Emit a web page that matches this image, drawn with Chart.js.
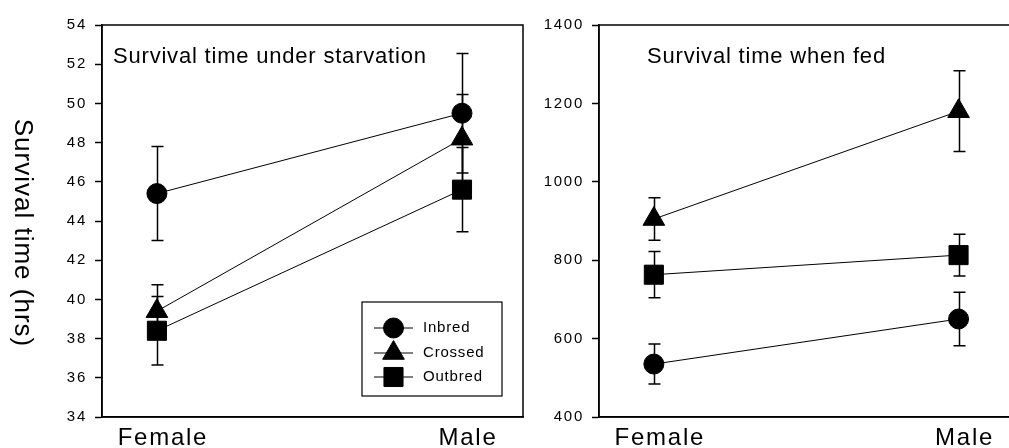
<!DOCTYPE html>
<html><head><meta charset="utf-8">
<script src="https://cdn.jsdelivr.net/npm/chart.js@4"></script>
<style>
html,body{margin:0;padding:0;background:#fff;overflow:hidden;width:1009px;height:448px;position:relative}
#c1{position:absolute;left:0;top:0}
#c2{position:absolute;left:530px;top:0}
</style></head>
<body>
<canvas id="c1" width="540" height="448"></canvas>
<canvas id="c2" width="504" height="448"></canvas>
<script>
// ---------- data ----------
const categories = ['Female', 'Male'];
const seriesNames = ['Inbred', 'Crossed', 'Outbred'];
const yTitle = 'Survival time (hrs)';
const titleStarv = 'Survival time under starvation';
const titleFed = 'Survival time when fed';

const starvInbred = [45.4, 49.5];
const starvInbredErr = [2.4, 3.05];
const starvCrossed = [39.4, 48.2];
const starvCrossedErr = [1.35, 2.25];
const starvOutbred = [38.4, 45.6];
const starvOutbredErr = [1.75, 2.15];

const fedInbred = [535, 650];
const fedInbredErr = [51, 68];
const fedCrossed = [905, 1180];
const fedCrossedErr = [54, 103];
const fedOutbred = [763, 813];
const fedOutbredErr = [59, 53];

const starvTickMin = 34, starvTickMax = 54, starvTickStep = 2;
const fedTickMin = 400, fedTickMax = 1400, fedTickStep = 200;

// ---------- styles ----------
const FONT = '"Liberation Sans", Arial, sans-serif';
const markerStyles = {
  Inbred: {pointStyle: 'circle', radius: 10},
  Crossed: {pointStyle: 'triangle', radius: 12.5},
  Outbred: {pointStyle: 'rect', radius: 13.5}
};

function makeDataset(name, values, errs) {
  const m = markerStyles[name];
  return {
    label: name,
    data: values.map((v, i) => ({x: i, y: v})),
    errors: errs,
    borderColor: '#000',
    borderWidth: 1,
    backgroundColor: '#000',
    pointStyle: m.pointStyle,
    pointRadius: m.radius,
    pointBackgroundColor: '#000',
    pointBorderColor: '#000',
    pointBorderWidth: 1,
    tension: 0,
    clip: false
  };
}

function drawMarker(ctx, style, r, x, y) {
  ctx.beginPath();
  if (style === 'circle') {
    ctx.arc(x, y, r, 0, Math.PI * 2);
  } else if (style === 'triangle') {
    const a = 2 * Math.PI / 3;
    ctx.moveTo(x, y - r);
    ctx.lineTo(x + Math.sin(a) * r, y - Math.cos(a) * r);
    ctx.lineTo(x + Math.sin(2 * a) * r, y - Math.cos(2 * a) * r);
    ctx.closePath();
  } else {
    const s = Math.SQRT1_2 * r;
    ctx.rect(x - s, y - s, 2 * s, 2 * s);
  }
  ctx.fill();
  ctx.stroke();
}

const textSpacing = {
  id: 'textSpacing',
  beforeDraw(chart) { chart.ctx.letterSpacing = '1.75px'; }
};

const errorBars = {
  id: 'errorBars',
  beforeDatasetsDraw(chart) {
    const ctx = chart.ctx, xs = chart.scales.x, ys = chart.scales.y;
    ctx.save();
    ctx.strokeStyle = '#000';
    ctx.lineWidth = 1.5;
    chart.data.datasets.forEach(ds => {
      ds.data.forEach((p, i) => {
        const e = ds.errors[i];
        const x = Math.round(xs.getPixelForValue(p.x)) + 0.5;
        const y1 = ys.getPixelForValue(p.y + e);
        const y2 = ys.getPixelForValue(p.y - e);
        ctx.beginPath();
        ctx.moveTo(x, y1); ctx.lineTo(x, y2);
        ctx.moveTo(x - 6, y1); ctx.lineTo(x + 6, y1);
        ctx.moveTo(x - 6, y2); ctx.lineTo(x + 6, y2);
        ctx.stroke();
      });
    });
    ctx.restore();
  }
};

const frame = {
  id: 'frame',
  afterDraw(chart, args, opts) {
    const ctx = chart.ctx, a = chart.chartArea;
    ctx.save();
    ctx.strokeStyle = '#000';
    ctx.lineWidth = 1.5;
    ctx.strokeRect(a.left, a.top, a.right - a.left, a.bottom - a.top);
    // panel title
    ctx.letterSpacing = '0.8px';
    ctx.fillStyle = '#000';
    ctx.font = '22px ' + FONT;
    ctx.textAlign = 'left';
    ctx.textBaseline = 'alphabetic';
    ctx.fillText(opts.title, opts.titleX, opts.titleY);
    if (opts.yTitle) {
      ctx.save();
      ctx.letterSpacing = '1px';
      ctx.font = '26px ' + FONT;
      ctx.translate(opts.yTitleX, opts.yTitleY);
      ctx.rotate(Math.PI / 2);
      ctx.textAlign = 'center';
      ctx.textBaseline = 'middle';
      ctx.fillText(opts.yTitle, 0, 0);
      ctx.restore();
    }
    if (opts.legend) {
      const L = opts.legend;
      ctx.lineWidth = 1.2;
      ctx.strokeRect(L.x, L.y, L.w, L.h);
      ctx.letterSpacing = '0.8px';
      ctx.font = '15px ' + FONT;
      ctx.textBaseline = 'middle';
      chart.data.datasets.forEach((ds, i) => {
        const yy = L.rowY[i];
        ctx.lineWidth = 1;
        ctx.beginPath();
        ctx.moveTo(L.lineX1, yy); ctx.lineTo(L.lineX2, yy);
        ctx.stroke();
        ctx.fillStyle = '#000';
        drawMarker(ctx, ds.pointStyle, ds.pointRadius, (L.lineX1 + L.lineX2) / 2, yy);
        ctx.fillText(ds.label, L.textX, yy);
      });
    }
    ctx.restore();
  }
};

function makeOptions(yMin, yMax, yStep, axisWidth, padRight, frameOpts) {
  return {
    responsive: false,
    animation: false,
    events: [],
    devicePixelRatio: 1,
    layout: {padding: {left: 0, right: padRight, top: 25, bottom: 0}},
    plugins: {legend: {display: false}, tooltip: {enabled: false}, frame: frameOpts},
    scales: {
      x: {
        type: 'linear', min: -0.18, max: 1.2,
        afterBuildTicks: s => { s.ticks = categories.map((c, i) => ({value: i})); },
        afterFit: s => { s.height = 31; },
        grid: {display: false, drawTicks: false},
        border: {display: true, color: '#000', width: 1.5},
        ticks: {
          callback: v => categories[v] ?? '',
          font: {family: FONT, size: 24},
          color: '#000', padding: 7, labelOffset: 6,
          maxRotation: 0, autoSkip: false
        }
      },
      y: {
        type: 'linear', min: yMin, max: yMax,
        afterFit: s => { s.width = axisWidth; },
        grid: {display: true, drawOnChartArea: false, drawTicks: true, tickLength: 7, tickColor: '#000', tickWidth: 1.5},
        border: {display: true, color: '#000', width: 1.5},
        ticks: {
          stepSize: yStep,
          callback: v => String(v),
          font: {family: FONT, size: 15},
          color: '#000', padding: 8
        }
      }
    }
  };
}

new Chart(document.getElementById('c1'), {
  type: 'line',
  data: {
    datasets: [
      makeDataset(seriesNames[0], starvInbred, starvInbredErr),
      makeDataset(seriesNames[1], starvCrossed, starvCrossedErr),
      makeDataset(seriesNames[2], starvOutbred, starvOutbredErr)
    ]
  },
  options: makeOptions(starvTickMin, starvTickMax, starvTickStep, 102, 17, {
    title: titleStarv, titleX: 113, titleY: 63,
    yTitle: yTitle, yTitleX: 22, yTitleY: 233,
    legend: {x: 362, y: 302, w: 140, h: 94, rowY: [328, 353, 377], lineX1: 374, lineX2: 413, textX: 423}
  }),
  plugins: [textSpacing, errorBars, frame]
});

new Chart(document.getElementById('c2'), {
  type: 'line',
  data: {
    datasets: [
      makeDataset(seriesNames[0], fedInbred, fedInbredErr),
      makeDataset(seriesNames[1], fedCrossed, fedCrossedErr),
      makeDataset(seriesNames[2], fedOutbred, fedOutbredErr)
    ]
  },
  options: makeOptions(fedTickMin, fedTickMax, fedTickStep, 69, 5, {
    title: titleFed, titleX: 117, titleY: 63
  }),
  plugins: [textSpacing, errorBars, frame]
});
</script>
</body></html>
